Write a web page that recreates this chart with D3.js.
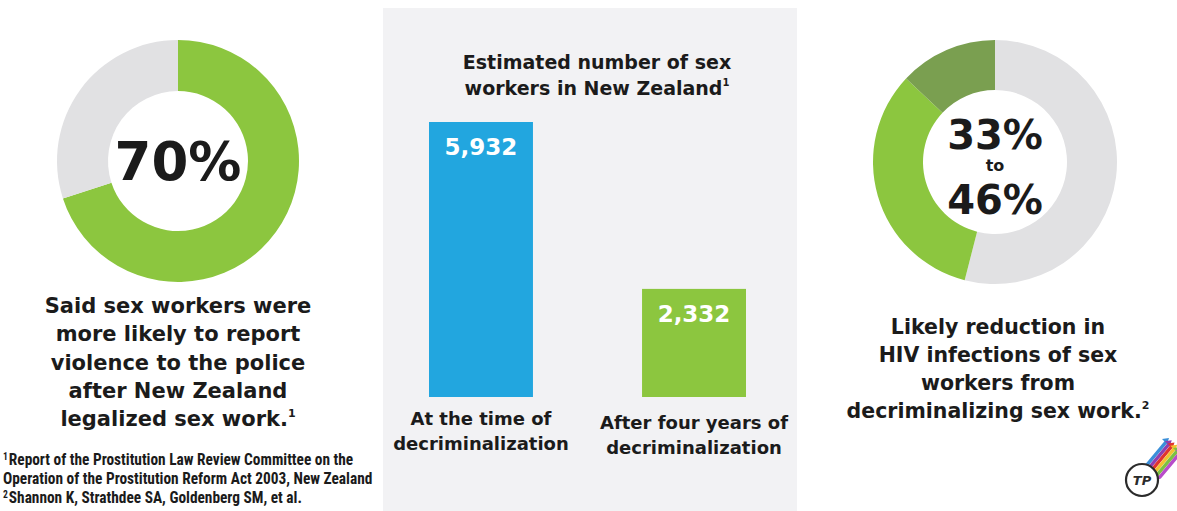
<!DOCTYPE html>
<html>
<head>
<meta charset="utf-8">
<script src="https://cdn.jsdelivr.net/npm/d3@7"></script>
<style>
  html, body { margin: 0; padding: 0; background: #ffffff; }
  svg { display: block; }
  .bold { font-family: "DejaVu Sans", "Open Sans", sans-serif; font-weight: bold; fill: #1b1b1b; }
  .note { font-family: "Liberation Sans Narrow", "Roboto Condensed", "Liberation Sans", sans-serif; font-weight: bold; fill: #1b1b1b; }
</style>
</head>
<body>
<svg id="chart" width="1177" height="511"></svg>
<script>
// ---- data ----
const reportShare = [70, 30];                 // % more likely to report violence, remainder
const reportLabels = ["reported", "other"];
const hivShares = [54, 33, 13];               // remainder, low estimate, extra up to high estimate
const hivLabels = ["remainder", "low", "high"];
const barCategories = ["At the time of decriminalization", "After four years of decriminalization"];
const barLines = [["At the time of", "decriminalization"], ["After four years of", "decriminalization"]];
const barValues = [5932, 2332];
const leftCaption = ["Said sex workers were", "more likely to report", "violence to the police", "after New Zealand", "legalized sex work."];
const rightCaption = ["Likely reduction in", "HIV infections of sex", "workers from", "decriminalizing sex work."];
const footnotes = [
  ["1", "Report of the Prostitution Law Review Committee on the"],
  ["", "Operation of the Prostitution Reform Act 2003, New Zealand"],
  ["2", "Shannon K, Strathdee SA, Goldenberg SM, et al."]
];

const GREEN = "#8cc63f", DARK_GREEN = "#7a9f50", GREY = "#e1e1e3", BLUE = "#22a6df";

const svg = d3.select("#chart");

// ---- centre panel background ----
svg.append("rect").attr("x", 383).attr("y", 8).attr("width", 414).attr("height", 503).attr("fill", "#f2f2f4");

// ---- left donut ----
const pie = d3.pie().sort(null).value(d => d);
const leftArc = d3.arc().innerRadius(70).outerRadius(121);
const gL = svg.append("g").attr("transform", "translate(178,161)");
gL.selectAll("path").data(pie(reportShare)).join("path")
  .attr("d", leftArc)
  .attr("fill", (d, i) => i === 0 ? GREEN : GREY);
gL.append("text").attr("class", "bold").attr("text-anchor", "middle").attr("dy", "0.36em")
  .style("font-size", "53px").text(reportShare[0] + "%");

const lc = svg.append("text").attr("class", "bold").attr("text-anchor", "middle").style("font-size", "21px");
leftCaption.forEach((t, i) => {
  lc.append("tspan").attr("x", 178).attr("y", 313 + i * 28.3).text(t);
  if (i === leftCaption.length - 1) {
    lc.append("tspan").attr("dy", -9).style("font-size", "11px").text("1");
  }
});

// ---- footnotes (condensed) ----
const fn = svg.append("g").attr("transform", "translate(3,0) scale(0.96,1)");
footnotes.forEach((f, i) => {
  const t = fn.append("text").attr("class", "note").attr("x", 0).attr("y", 465 + i * 19)
    .style("font-size", "16px");
  if (f[0]) t.append("tspan").attr("dy", -5).style("font-size", "10px").text(f[0]);
  t.append("tspan").attr("dy", f[0] ? 5 : 0).attr("dx", f[0] ? 1 : 0).text(f[1]);
});

// ---- centre bar chart ----
const title = svg.append("text").attr("class", "bold").attr("text-anchor", "middle").style("font-size", "19px");
title.append("tspan").attr("x", 597).attr("y", 69).text("Estimated number of sex");
title.append("tspan").attr("x", 597).attr("y", 95).text("workers in New Zealand");
title.append("tspan").attr("dy", -9).style("font-size", "10px").text("1");

const x = d3.scaleBand().domain(barCategories).range([429, 746]).paddingInner(0.512).paddingOuter(0);
const y = d3.scaleLinear().domain([0, 5932]).range([397, 122]);

svg.selectAll("rect.bar").data(barValues).join("rect")
  .attr("class", "bar")
  .attr("x", (d, i) => x(barCategories[i]))
  .attr("y", d => y(d))
  .attr("width", x.bandwidth())
  .attr("height", d => y(0) - y(d))
  .attr("fill", (d, i) => i === 0 ? BLUE : GREEN);

svg.selectAll("text.val").data(barValues).join("text")
  .attr("class", "val bold")
  .attr("text-anchor", "middle")
  .attr("x", (d, i) => x(barCategories[i]) + x.bandwidth() / 2)
  .attr("y", d => y(d) + 33)
  .style("font-size", "23px").style("fill", "#ffffff")
  .text(d => d3.format(",")(d));

barLines.forEach((lines, i) => {
  const cx = x(barCategories[i]) + x.bandwidth() / 2;
  const t = svg.append("text").attr("class", "bold").attr("text-anchor", "middle").style("font-size", "18px");
  lines.forEach((l, j) => t.append("tspan").attr("x", cx).attr("y", 425 + i * 4 + j * 25).text(l));
});

// ---- right donut ----
const rightArc = d3.arc().innerRadius(72).outerRadius(122);
const gR = svg.append("g").attr("transform", "translate(995,162)");
gR.selectAll("path").data(pie(hivShares)).join("path")
  .attr("d", rightArc)
  .attr("fill", (d, i) => [GREY, GREEN, DARK_GREEN][i]);
const low = hivShares[1], high = hivShares[1] + hivShares[2];
gR.append("text").attr("class", "bold").attr("text-anchor", "middle").attr("y", -13)
  .style("font-size", "40px").text(low + "%");
gR.append("text").attr("class", "bold").attr("text-anchor", "middle").attr("y", 9)
  .style("font-size", "16px").text("to");
gR.append("text").attr("class", "bold").attr("text-anchor", "middle").attr("y", 52)
  .style("font-size", "40px").text(high + "%");

const rc = svg.append("text").attr("class", "bold").attr("text-anchor", "middle").style("font-size", "20.5px");
rightCaption.forEach((t, i) => {
  rc.append("tspan").attr("x", 998).attr("y", 334 + i * 28).text(t);
  if (i === rightCaption.length - 1) rc.append("tspan").attr("dy", -9).style("font-size", "11px").text("2");
});

// ---- logo: circled TP with coloured arrows ----
const logo = svg.append("g").attr("transform", "translate(1142,480)");
const streaks = [["#3b8fd9", 0], ["#8f3fb0", 5], ["#e0342f", 10], ["#f2c230", 15], ["#7cc142", 20], ["#b84cc9", 25]];
streaks.forEach(([c, o]) => {
  const x1 = 4 + o * 0.55, y1 = -14 + o * 0.45, x2 = x1 + 20, y2 = y1 - 24;
  logo.append("line").attr("x1", x1).attr("y1", y1).attr("x2", x2).attr("y2", y2)
    .attr("stroke", c).attr("stroke-width", 3.5).attr("stroke-linecap", "round");
  logo.append("path").attr("d", `M${x2 + 3},${y2 - 4} l-7,1 l5,5 z`).attr("fill", c);
});
logo.append("circle").attr("r", 16).attr("fill", "#ffffff").attr("stroke", "#2b2b2b").attr("stroke-width", 2.2);
logo.append("text").attr("text-anchor", "middle").attr("dy", "0.35em")
  .style("font-family", "DejaVu Sans").style("font-weight", "bold").style("font-style", "italic")
  .style("font-size", "13px").style("fill", "#2b2b2b").text("TP");
</script>
</body>
</html>
